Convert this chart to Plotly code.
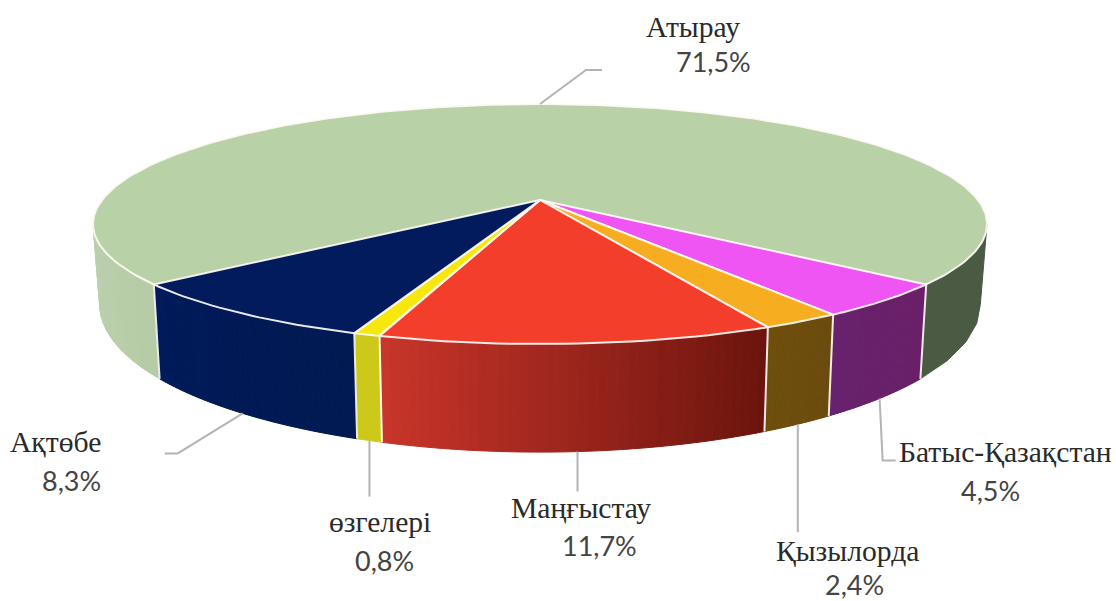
import math
import plotly.graph_objects as go

# ---- data -------------------------------------------------
labels = ["Батыс-Қазақстан", "Қызылорда", "Маңғыстау", "өзгелері", "Ақтөбе", "Атырау"]
values = [4.5, 2.4, 11.7, 0.8, 8.3, 71.5]
value_text = ["4,5%", "2,4%", "11,7%", "0,8%", "8,3%", "71,5%"]
top_colors = ["#ee55f3", "#f6ae20", "#f33e2b", "#f6e80c", "#021b5c", "#b9d1a7"]
side_left = ["#68216c", "#6f4e0c", "#c9352a", "#cdc91a", "#001a5a", "#b5cca6"]
side_right = ["#6a1f68", "#6b4a0e", "#6a140d", "#cdc91a", "#021a52", "#4a5a43"]

# ---- projection of the tilted pie -------------------------
CX, CY = 540, 200
A, B, K = 438, 115.2, 0.2
SX, SY, DROP = 0.985, 1.23, 75
WIDTH, HEIGHT = 1116, 601
EDGE = "rgba(255,250,245,0.92)"


def top_pt(deg):
    t = math.radians(deg)
    X, Y = math.sin(t), math.cos(t)
    d = 1 - K * Y
    return CX + A * X / d, CY + B * Y / d


def bot_pt(deg):
    x, y = top_pt(deg)
    return CX + SX * (x - CX), CY + DROP + SY * (y - CY)


def arc(fn, a, b, n=60):
    return [fn(a + (b - a) * i / n) for i in range(n + 1)]


def mix(c1, c2, f):
    p = [int(c1[i:i + 2], 16) for i in (1, 3, 5)]
    q = [int(c2[i:i + 2], 16) for i in (1, 3, 5)]
    return "rgb(%d,%d,%d)" % tuple(round(u + (v - u) * f) for u, v in zip(p, q))


fig = go.Figure()


def poly(points, fill, line=None, width=1):
    fig.add_trace(go.Scatter(
        x=[p[0] for p in points] + [points[0][0]],
        y=[p[1] for p in points] + [points[0][1]],
        mode="lines", fill="toself", fillcolor=fill,
        line=dict(color=line or fill, width=width),
        hoverinfo="skip", showlegend=False))


def wall(a, b, c1, c2, strips):
    for i in range(strips):
        u = a + (b - a) * i / strips
        v = a + (b - a) * (i + 1) / strips
        col = mix(c1, c2, (i + 0.5) / strips)
        poly(arc(top_pt, u, v, 4) + arc(bot_pt, v, u, 4), col)


total = sum(values)
sweep = [v / total * 360 for v in values]
front = sum(sweep[:-1])
start = front / 2          # degrees right of the viewer-facing direction
edges = [start]
for s in sweep[:-1]:
    edges.append(edges[-1] - s)
silhouette = math.degrees(math.acos(K))

# walls
wall(start, silhouette, side_right[-1], side_right[-1], 1)
wall(-silhouette, edges[-1], "#bdd0ae", side_left[-1], 12)
for i in range(len(values) - 1):
    n = 40 if side_left[i] != side_right[i] else 1
    wall(edges[i], edges[i + 1], side_right[i], side_left[i], n)

# wall separators
for e in edges:
    p, q = top_pt(e), bot_pt(e)
    fig.add_trace(go.Scatter(x=[p[0], q[0]], y=[p[1], q[1]], mode="lines",
                             line=dict(color=EDGE, width=2),
                             hoverinfo="skip", showlegend=False))

# top faces
poly(arc(top_pt, start, 360 - start, 240), top_colors[-1], EDGE, 2)
for i in range(len(values) - 1):
    poly([(CX, CY)] + arc(top_pt, edges[i], edges[i + 1], 30), top_colors[i], EDGE, 2)

# leader lines: start at slice mid-angle, then relative elbows
mids = [(edges[i] + edges[i + 1]) / 2 for i in range(len(values) - 1)] + [180]
elbows = [
    [(3, 62), (16, 62)],
    [(0, 108)],
    [(0, 40)],
    [(0, 56)],
    [(-65, 40), (-78, 40)],
    [(46, -34), (62, -34)],
]
for i, m in enumerate(mids):
    sx, sy = top_pt(m) if i == len(mids) - 1 else bot_pt(m)
    xs = [sx] + [sx + d[0] for d in elbows[i]]
    ys = [sy] + [sy + d[1] for d in elbows[i]]
    fig.add_trace(go.Scatter(x=xs, y=ys, mode="lines",
                             line=dict(color="#b4b4b4", width=2),
                             hoverinfo="skip", showlegend=False))

# text
name_pos = [(899, 452), (776, 551), (511, 508), (329, 522), (10, 442), (646, 27)]
val_pos = [(961, 490), (825, 584), (562, 545), (355, 560), (42, 480), (676, 61)]
for i in range(len(values)):
    fig.add_annotation(x=name_pos[i][0], y=name_pos[i][1], text=labels[i], xanchor="left",
                       yanchor="middle", showarrow=False, borderpad=0, borderwidth=0,
                       font=dict(family="Liberation Serif", size=29.6, color="#2a2a2a"))
    fig.add_annotation(x=val_pos[i][0], y=val_pos[i][1], text=value_text[i], xanchor="left",
                       yanchor="middle", showarrow=False, borderpad=0, borderwidth=0,
                       font=dict(family="Lato", size=27, color="#444444"))

fig.update_layout(
    width=WIDTH, height=HEIGHT, autosize=False,
    margin=dict(l=0, r=0, t=0, b=0),
    paper_bgcolor="white", plot_bgcolor="white", showlegend=False,
    xaxis=dict(range=[0, WIDTH], visible=False, fixedrange=True),
    yaxis=dict(range=[HEIGHT, 0], visible=False, fixedrange=True),
)
fig.write_html("out.html", config={"displayModeBar": False},
               post_script="document.body.style.margin='0';document.body.style.overflow='hidden';")
